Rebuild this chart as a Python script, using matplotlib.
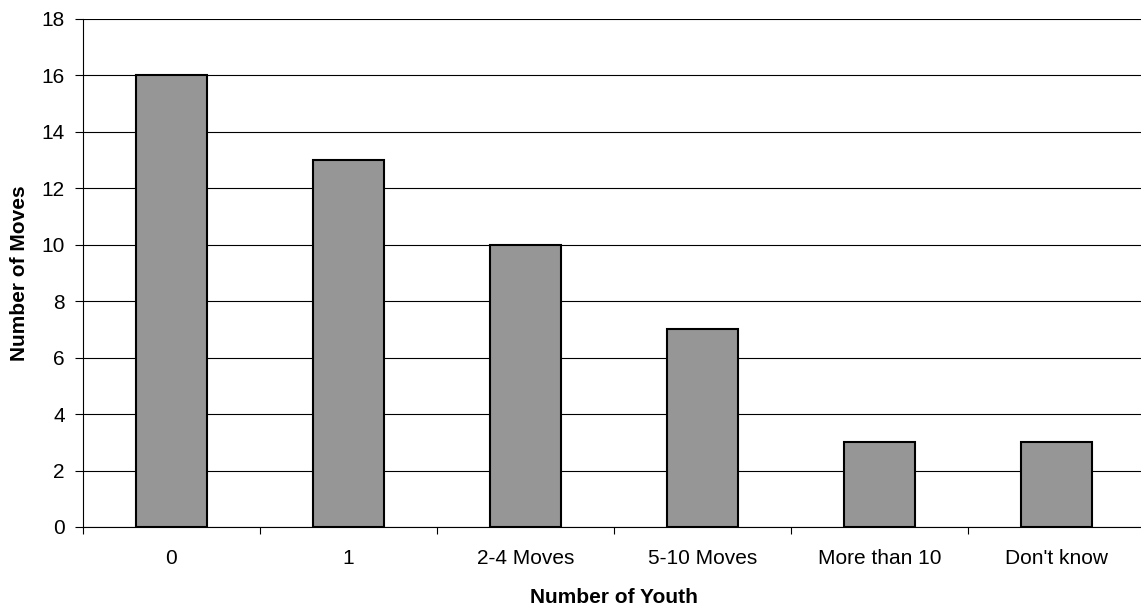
import matplotlib
matplotlib.use("Agg")
import matplotlib.pyplot as plt

# data
categories = ["0", "1", "2-4 Moves", "5-10 Moves", "More than 10", "Don't know"]
moves = [16, 13, 10, 7, 3, 3]
y_ticks = [0, 2, 4, 6, 8, 10, 12, 14, 16, 18]

plt.rcParams['font.family'] = ['Liberation Sans', 'DejaVu Sans']

fig = plt.figure(figsize=(11.41, 6.08), dpi=100)
# axes runs a little past the right edge like the original
ax = fig.add_axes([83 / 1141, 81 / 608, 1062 / 1141, 508 / 608])

x = range(len(categories))
ax.bar(x, moves, width=0.4, color='#969696', edgecolor='black', linewidth=1.5, zorder=3)

ax.set_xlim(-0.5, len(categories) - 0.5)
ax.set_ylim(0, 18)
ax.set_yticks(y_ticks)
ax.yaxis.grid(True, color='black', linewidth=0.8, zorder=0)
ax.set_axisbelow(True)

# x ticks sit between categories, labels centred under bars
ax.set_xticks([i - 0.5 for i in range(len(categories) + 1)])
ax.set_xticklabels([])
ax.set_xticks(list(x), minor=True)
ax.set_xticklabels(categories, minor=True, fontsize=15)
ax.tick_params(axis='x', which='minor', length=0, pad=16)
ax.tick_params(axis='x', which='major', length=5, direction='out')
ax.tick_params(axis='y', length=6, direction='out', labelsize=15, pad=7)

for side in ['top', 'right']:
    ax.spines[side].set_visible(False)
ax.spines['left'].set_linewidth(0.8)
ax.spines['bottom'].set_linewidth(0.8)

ax.set_xlabel('Number of Youth', fontsize=15, fontweight='bold', labelpad=14)
ax.set_ylabel('Number of Moves', fontsize=15, fontweight='bold', labelpad=9)

fig.savefig('out.png', dpi=100)
